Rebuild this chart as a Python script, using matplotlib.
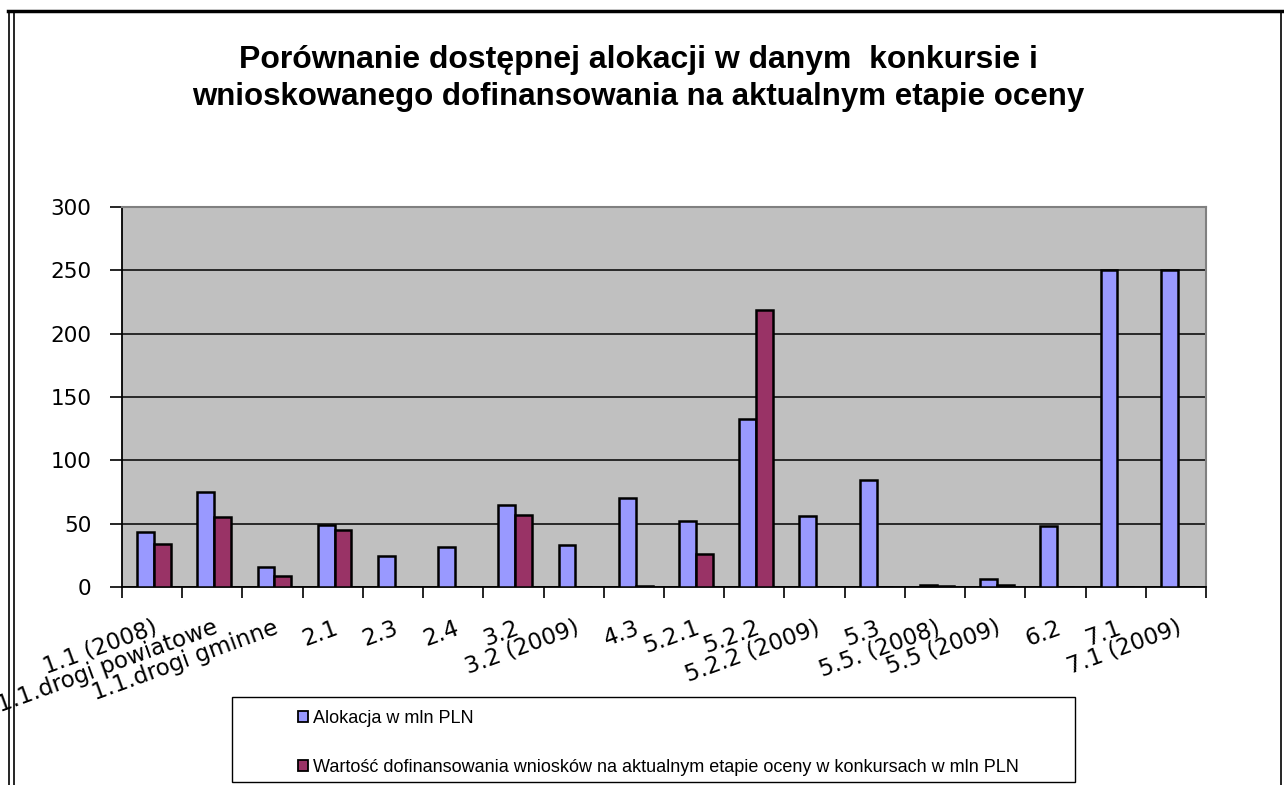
import numpy as np
from matplotlib import pyplot as plt
from matplotlib.patches import Rectangle, Patch
from matplotlib.lines import Line2D
from matplotlib.transforms import blended_transform_factory

categories = ['1.1 (2008)', '1.1.drogi powiatowe', '1.1.drogi gminne', '2.1', '2.3', '2.4',
              '3.2', '3.2 (2009)', '4.3', '5.2.1', '5.2.2', '5.2.2 (2009)', '5.3',
              '5.5. (2008)', '5.5 (2009)', '6.2', '7.1', '7.1 (2009)']
alokacja = [43.4, 75, 15.8, 49.2, 24.5, 31.6, 65, 33, 70.5, 51.9, 133, 55.8, 84.8, 1.3, 6.6, 48.2, 250, 250]
wartosc = [34.2, 55.3, 8.4, 44.7, 0, 0, 56.6, 0, 0.5, 26.3, 218.4, 0, 0, 0.5, 1.3, 0, 0, 0]
yticks = [0, 50, 100, 150, 200, 250, 300]

label_alokacja = 'Alokacja w mln PLN'
label_wartosc = 'Wartość dofinansowania wniosków na aktualnym etapie oceny w konkursach w mln PLN'
title_1 = 'Porównanie dostępnej alokacji w danym  konkursie i'
title_2 = 'wnioskowanego dofinansowania na aktualnym etapie oceny'

BLUE = '#9999FF'
RED = '#993366'
W, H = 1284, 785


def fx(px):
    return px / W


def fy(py):
    return 1 - py / H


def draw_frame(fig):
    # outer border pieces visible on the crop
    fig.add_artist(Line2D([fx(8), fx(1284)], [fy(11), fy(11)], color='black', lw=2.5))
    fig.add_artist(Line2D([fx(9), fx(9)], [fy(11), 0], color='black', lw=1.2))
    fig.add_artist(Line2D([fx(14), fx(14)], [fy(11), 0], color='black', lw=1.2))
    fig.add_artist(Line2D([fx(1281), fx(1281)], [fy(11), 0], color='black', lw=1.2))


def main():
    plt.rcParams['font.family'] = ['Liberation Sans', 'DejaVu Sans']
    fig = plt.figure(figsize=(W / 100, H / 100), dpi=100)
    ax = fig.add_axes([fx(122), fy(587), fx(1206) - fx(122), fy(207) - fy(587)])
    ax.set_facecolor('#C0C0C0')

    x = np.arange(len(categories))
    bw = 0.28
    ax.bar(x - bw / 2 + 0.03, alokacja, bw, color=BLUE, edgecolor='black', linewidth=1.8, zorder=3)
    ax.bar(x + bw / 2 + 0.03, wartosc, bw, color=RED, edgecolor='black', linewidth=1.8, zorder=3)

    ax.set_ylim(0, 300)
    ax.set_xlim(-0.5, len(categories) - 0.5)
    ax.set_yticks(yticks)
    ax.set_yticklabels([str(v) for v in yticks], family='DejaVu Sans')
    ax.yaxis.grid(True, color='black', linewidth=1.1, zorder=1)
    ax.set_axisbelow(True)
    ax.tick_params(axis='y', labelsize=15.5, length=9, width=1.2, pad=13, direction='out')
    ax.set_xticks(x[:-1] + 0.5, minor=False)
    ax.set_xticks([-0.5, len(categories) - 0.5], minor=True)
    ax.tick_params(axis='x', which='both', length=8, width=1.2, direction='out', labelbottom=False)
    for s in ['left', 'bottom']:
        ax.spines[s].set_color('black')
        ax.spines[s].set_linewidth(1.3)
    for s in ['top', 'right']:
        ax.spines[s].set_color('#808080')
        ax.spines[s].set_linewidth(1.5)

    # category labels, the long one is cut at the left edge like in the source
    tr = blended_transform_factory(ax.transData, ax.transAxes)
    for i, lab in enumerate(categories):
        ax.text(i + 0.08, -40 / 380, lab, transform=tr, rotation=20, rotation_mode='anchor',
                ha='right', va='center', fontsize=16.5, family='DejaVu Sans')

    fig.text(0.497, fy(60), title_1, ha='center', va='center', fontsize=23, fontweight='bold')
    fig.text(0.497, fy(97), title_2, ha='center', va='center', fontsize=22.5, fontweight='bold')

    # legend box
    fig.add_artist(Rectangle((fx(232), fy(782)), fx(1075) - fx(232), fy(697) - fy(782),
                             transform=fig.transFigure, facecolor='white', edgecolor='black', lw=1.0))
    handles = [Patch(facecolor=BLUE, edgecolor='black', linewidth=1.3),
               Patch(facecolor=RED, edgecolor='black', linewidth=1.3)]
    fig.legend(handles, [label_alokacja, label_wartosc], loc='upper left',
               bbox_to_anchor=(fx(298), fy(710)), frameon=False, fontsize=13,
               handlelength=0.55, handleheight=0.55, handletextpad=0.3,
               labelspacing=1.75, borderpad=0, borderaxespad=0)

    draw_frame(fig)
    fig.savefig('out.png', dpi=100)


if __name__ == '__main__':
    main()
